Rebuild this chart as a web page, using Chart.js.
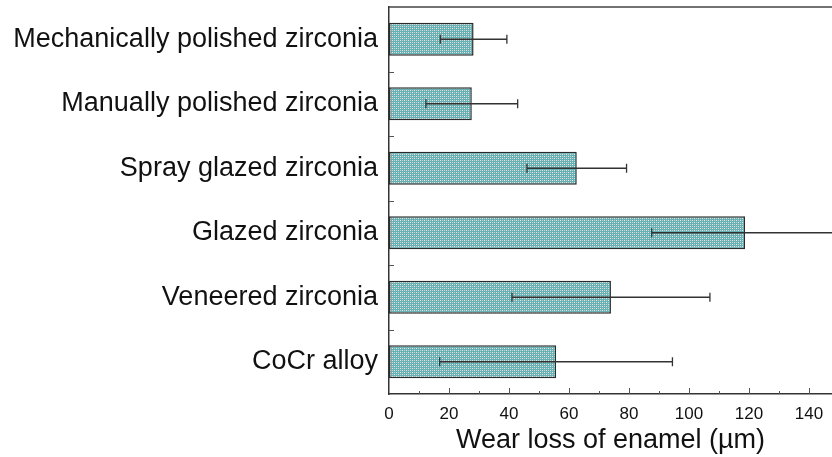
<!DOCTYPE html>
<html>
<head>
<meta charset="utf-8">
<script src="https://cdn.jsdelivr.net/npm/chart.js@4"></script>
<style>
  html, body { margin: 0; padding: 0; background: #fff; }
  #wrap { width: 832px; height: 457px; }
</style>
</head>
<body>
<div id="wrap"><canvas id="wearChart" width="832" height="457"></canvas></div>
<script>
// Chart data
const categories = [
    'Mechanically polished zirconia',
    'Manually polished zirconia',
    'Spray glazed zirconia',
    'Glazed zirconia',
    'Veneered zirconia',
    'CoCr alloy'
];
const meanWear = [28.2, 27.6, 62.6, 118.7, 74.0, 55.7];
const sdWear = [11.1, 15.3, 16.6, 31.1, 33.0, 38.8];
const xTickValues = [0, 20, 40, 60, 80, 100, 120, 140];

// Dotted teal fill like the original hatch
function makePattern() {
    const p = document.createElement('canvas');
    p.width = 4;
    p.height = 4;
    const c = p.getContext('2d');
    c.fillStyle = '#62b2b6';
    c.fillRect(0, 0, 4, 4);
    c.fillStyle = '#d8eff0';
    c.fillRect(0, 0, 1, 1);
    c.fillRect(2, 2, 1, 1);
    c.fillStyle = '#b0dadc';
    c.fillRect(2, 0, 1, 1);
    c.fillRect(0, 2, 1, 1);
    return c.createPattern(p, 'repeat');
}

// Frame, inner ticks and error bars
const extrasPlugin = {
    id: 'extras',
    afterDatasetsDraw(chart) {
        const ctx = chart.ctx;
        const area = chart.chartArea;
        const x = chart.scales.x;
        const y = chart.scales.y;
        ctx.save();

        // error bars
        ctx.strokeStyle = '#333';
        ctx.lineWidth = 1.3;
        meanWear.forEach((m, i) => {
            const yc = y.getPixelForValue(i);
            const x0 = x.getPixelForValue(m - sdWear[i]);
            const x1 = x.getPixelForValue(m + sdWear[i]);
            ctx.beginPath();
            ctx.moveTo(x0, yc);
            ctx.lineTo(x1, yc);
            ctx.moveTo(x0, yc - 4.5);
            ctx.lineTo(x0, yc + 4.5);
            ctx.moveTo(x1, yc - 4.5);
            ctx.lineTo(x1, yc + 4.5);
            ctx.stroke();
        });

        // top frame line
        ctx.strokeStyle = '#444';
        ctx.lineWidth = 1.5;
        ctx.beginPath();
        ctx.moveTo(area.left, area.top);
        ctx.lineTo(area.right, area.top);
        ctx.stroke();

        // inward ticks on x axis (major every 20, minor every 10)
        ctx.strokeStyle = '#555';
        ctx.lineWidth = 1;
        for (let v = 10; v <= x.max; v += 10) {
            const px = Math.round(x.getPixelForValue(v)) + 0.5;
            const len = v % 20 === 0 ? 6 : 3;
            ctx.beginPath();
            ctx.moveTo(px, area.bottom);
            ctx.lineTo(px, area.bottom - len);
            ctx.stroke();
        }

        // inward ticks on y axis between categories
        for (let i = 0; i < categories.length - 1; i++) {
            const py = Math.round(y.getPixelForValue(i + 0.5)) + 0.5;
            ctx.beginPath();
            ctx.moveTo(area.left, py);
            ctx.lineTo(area.left + 5, py);
            ctx.stroke();
        }
        ctx.restore();
    }
};

const ctx = document.getElementById('wearChart').getContext('2d');
window.wearChartInstance = new Chart(ctx, {
    type: 'bar',
    data: {
        labels: categories,
        datasets: [{
            label: 'Wear loss of enamel',
            data: meanWear,
            backgroundColor: makePattern(),
            borderColor: '#2b2b2b',
            borderWidth: 1.5,
            borderSkipped: false,
            barPercentage: 0.51,
            categoryPercentage: 1.0
        }]
    },
    options: {
        indexAxis: 'y',
        responsive: false,
        animation: false,
        layout: { padding: { top: 7, right: 0, bottom: 0, left: 0 } },
        scales: {
            x: {
                min: 0,
                max: 147.7,
                afterBuildTicks: scale => {
                    scale.ticks = xTickValues.map(v => ({ value: v }));
                },
                afterFit: scale => {
                    scale.height = 63;
                    scale.paddingLeft = 0;
                    scale.paddingRight = 0;
                },
                grid: { display: false, drawTicks: false },
                border: { display: true, color: '#333', width: 1.5 },
                ticks: {
                    color: '#111',
                    font: { family: 'Liberation Sans', size: 17 },
                    padding: 10,
                    maxRotation: 0,
                    autoSkip: false
                },
                title: {
                    display: true,
                    text: 'Wear loss of enamel (µm)',
                    color: '#111',
                    font: { family: 'Liberation Sans', size: 27 },
                    padding: { top: 0, bottom: 0 }
                }
            },
            y: {
                afterFit: scale => {
                    scale.width = 389;
                    scale.paddingTop = 0;
                    scale.paddingBottom = 0;
                },
                grid: { display: false, drawTicks: false },
                border: { display: true, color: '#333', width: 1.5 },
                ticks: {
                    color: '#111',
                    font: { family: 'Liberation Sans', size: 27 },
                    padding: 11,
                    autoSkip: false
                }
            }
        },
        plugins: {
            legend: { display: false },
            title: { display: false },
            tooltip: { enabled: false }
        }
    },
    plugins: [extrasPlugin]
});
</script>
</body>
</html>
